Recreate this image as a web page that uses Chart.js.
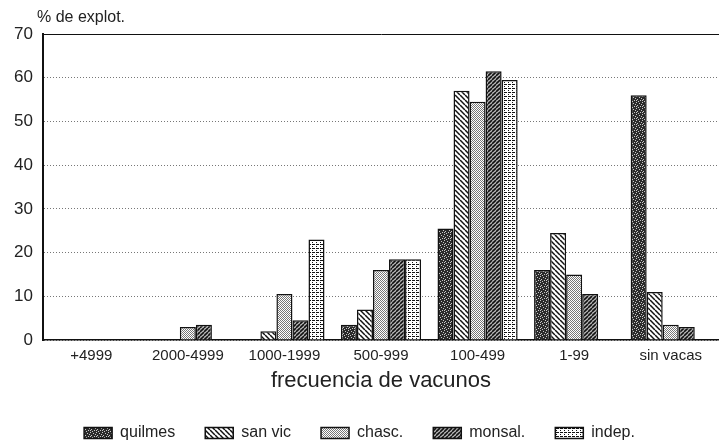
<!DOCTYPE html>
<html>
<head>
<meta charset="utf-8">
<script src="https://cdn.jsdelivr.net/npm/chart.js@4.4.0/dist/chart.umd.min.js"></script>
<style>
  html, body { margin: 0; padding: 0; background: #fff; overflow: hidden; }
  #wrap { width: 719px; height: 446px; }
</style>
</head>
<body>
<div id="wrap"><canvas id="chart" width="719" height="446"></canvas></div>
<script>
const categories = ['+4999', '2000-4999', '1000-1999', '500-999', '100-499', '1-99', 'sin vacas'];
const seriesNames = ['quilmes', 'san vic', 'chasc.', 'monsal.', 'indep.'];
const quilmes = [0, 0, 0, 3.5, 25.5, 16, 56];
const sanVic = [0, 0, 2, 7, 57, 24.5, 11];
const chasc = [0, 3, 10.5, 16, 54.5, 15, 3.5];
const monsal = [0, 3.5, 4.5, 18.5, 61.5, 10.5, 3];
const indep = [0, 0, 23, 18.5, 59.5, 0, 0];
const yTicks = [0, 10, 20, 30, 40, 50, 60, 70];
const yTitle = '% de explot.';
const xTitle = 'frecuencia de vacunos';

const ink = '#222';
const fontFamily = "'Liberation Sans', Arial, sans-serif";

function makePattern(size, draw) {
  const c = document.createElement('canvas');
  c.width = size; c.height = size;
  const g = c.getContext('2d');
  g.fillStyle = '#fff';
  g.fillRect(0, 0, size, size);
  draw(g, size);
  return g.createPattern(c, 'repeat');
}

// dark stipple
const patQuilmes = makePattern(6, (g, s) => {
  g.fillStyle = '#2b2b2b';
  g.fillRect(0, 0, s, s);
  g.fillStyle = '#c8c8c8';
  [[0, 0], [3, 1], [1, 3], [4, 4], [2, 5], [5, 2], [0, 4]].forEach(p => g.fillRect(p[0], p[1], 1, 1));
});

// back-slash hatching
const patSanVic = makePattern(5, (g, s) => {
  g.strokeStyle = '#111';
  g.lineWidth = 1.5;
  for (let i = -s; i <= s; i += s) {
    g.beginPath();
    g.moveTo(i, 0);
    g.lineTo(i + s, s);
    g.stroke();
  }
});

// light stipple
const patChasc = makePattern(4, (g, s) => {
  g.fillStyle = '#777';
  for (let x = 0; x < s; x++) {
    for (let y = 0; y < s; y++) {
      if ((x + y) % 2 === 0) g.fillRect(x, y, 1, 1);
    }
  }
});

// forward-slash hatching, denser
const patMonsal = makePattern(4, (g, s) => {
  g.fillStyle = '#bbb';
  g.fillRect(0, 0, s, s);
  g.strokeStyle = '#111';
  g.lineWidth = 1.6;
  for (let i = -s; i <= s; i += s) {
    g.beginPath();
    g.moveTo(i, s);
    g.lineTo(i + s, 0);
    g.stroke();
  }
});

// dotted grid
const patIndep = makePattern(4, (g, s) => {
  g.fillStyle = '#111';
  for (let y = 0; y < s; y += 2) g.fillRect(0, y, 1, 1);
  for (let x = 0; x < s; x += 2) g.fillRect(x, 0, 1, 1);
  g.fillRect(1, 0, 1, 1);
});

const seriesData = [quilmes, sanVic, chasc, monsal, indep];
const seriesFills = [patQuilmes, patSanVic, patChasc, patMonsal, patIndep];

const datasets = seriesNames.map((name, i) => ({
  label: name,
  data: seriesData[i],
  backgroundColor: seriesFills[i],
  borderColor: '#111',
  borderWidth: 1.5,
  barPercentage: 1.0,
  categoryPercentage: 0.83
}));

const yTitlePlugin = {
  id: 'yTitlePlugin',
  afterDraw(chart) {
    const { ctx, chartArea } = chart;
    ctx.save();
    ctx.font = '16px ' + fontFamily;
    ctx.fillStyle = ink;
    ctx.textAlign = 'left';
    ctx.textBaseline = 'alphabetic';
    ctx.fillText(yTitle, chartArea.left - 6, chartArea.top - 12);
    ctx.restore();
  }
};

new Chart(document.getElementById('chart').getContext('2d'), {
  type: 'bar',
  data: { labels: categories, datasets: datasets },
  plugins: [yTitlePlugin],
  options: {
    responsive: false,
    animation: false,
    layout: { padding: { top: 34, right: 0, bottom: -5, left: 0 } },
    plugins: {
      legend: {
        position: 'bottom',
        labels: {
          color: ink,
          font: { family: fontFamily, size: 16 },
          boxWidth: 28,
          boxHeight: 11,
          padding: 30
        }
      },
      tooltip: { enabled: false },
      title: { display: false }
    },
    scales: {
      x: {
        grid: { display: false },
        border: { display: true, color: '#111', width: 1.5 },
        ticks: {
          color: ink,
          font: { family: fontFamily, size: 15 },
          padding: -1,
          maxRotation: 0,
          autoSkip: false
        },
        title: {
          display: true,
          text: xTitle,
          color: ink,
          font: { family: fontFamily, size: 22 },
          padding: { top: 2, bottom: 1 }
        },
        afterFit(scale) { scale.height = 55; }
      },
      y: {
        min: 0,
        max: 70,
        afterBuildTicks(scale) { scale.ticks = yTicks.map(v => ({ value: v })); },
        grid: {
          drawTicks: false,
          color: ctx => (ctx.tick && ctx.tick.value === 70) ? '#111' : '#777',
          lineWidth: 1
        },
        border: {
          display: true,
          color: '#111',
          width: 2,
          dash: ctx => (ctx.tick && ctx.tick.value === 70) ? [] : [1, 2]
        },
        ticks: {
          color: ink,
          font: { family: fontFamily, size: 17 },
          padding: 10
        },
        afterFit(scale) { scale.width = 43; }
      }
    }
  }
});
</script>
</body>
</html>
